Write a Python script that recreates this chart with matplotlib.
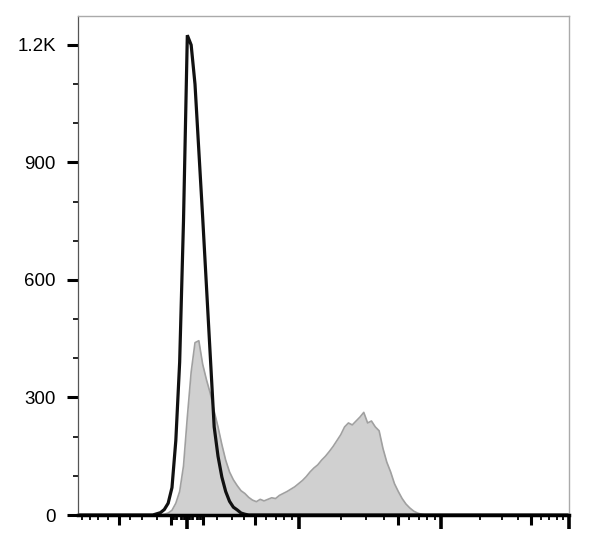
import numpy as np
import matplotlib
matplotlib.use('Agg')
from matplotlib import pyplot as plt

# histogram counts, 128 display channels across the axis
n_channels = 128

# control (black line), counts from channel 20 on
control_start = 20
control_counts = [3, 6, 14, 30, 70, 190, 390, 750, 1225, 1200, 1100, 930,
                  760, 580, 400, 225, 150, 97, 60, 35, 20, 13, 5, 2]

# stained sample (grey fill), counts from channel 22 on
stained_start = 22
stained_counts = [2, 5, 12, 30, 60, 125, 250, 365, 440, 445, 385, 345, 310,
                  265, 225, 180, 140, 110, 90, 75, 62, 55, 45, 38, 34,
                  40, 36, 40, 44, 42, 50, 55, 60, 66, 72, 80, 88,
                  98, 110, 120, 128, 140, 150, 162, 175, 190, 205, 225, 235,
                  230, 240, 250, 262, 235, 240, 225, 215, 170, 135, 110, 80,
                  60, 42, 28, 18, 10, 5, 2]

y_ticks = [0, 300, 600, 900, 1200]
y_labels = ['0', '300', '600', '900', '1.2K']

x_long = [0, 1e3, 1e4, 1e5]
x_medium = [-500, -100, 100, 500, 5e3, 5e4]
x_minor = ([-v for v in range(600, 1000, 100)] + [-v for v in (200, 300, 400)]
           + [-v for v in range(10, 100, 10) if v != 50]
           + [v for v in range(10, 100, 10) if v != 50]
           + [200, 300, 400, 600, 700, 800, 900]
           + [k * 1e3 for k in (2, 3, 4, 6, 7, 8, 9)]
           + [k * 1e4 for k in (2, 3, 4, 6, 7, 8, 9)])

x_min_value = -960
x_max_value = 1e5


def biex(v):
    # biexponential-like display transform (symmetric around zero)
    knots_v = np.array([0, 200, 500, 1000, 1e4, 1e5, 1e6])
    knots_d = np.array([0, 30, 68, 112, 255, 383, 511])
    v = np.asarray(v, dtype=float)
    u = np.arcsinh(np.abs(v) / 300)
    d = np.interp(u, np.arcsinh(knots_v / 300), knots_d)
    return np.sign(v) * d


def to_channel(v):
    lo = biex(x_min_value)
    hi = biex(x_max_value)
    return (biex(v) - lo) / (hi - lo) * n_channels


control = np.zeros(n_channels)
control[control_start:control_start + len(control_counts)] = control_counts
stained = np.zeros(n_channels)
stained[stained_start:stained_start + len(stained_counts)] = stained_counts
channels = np.arange(n_channels) + 0.5

plt.rcParams['font.family'] = ['Liberation Sans', 'DejaVu Sans']

fig = plt.figure(figsize=(6.08, 5.45), dpi=100)
ax = fig.add_axes([78 / 608, 30 / 545, 491 / 608, 499 / 545])

ax.fill_between(channels, stained, color='#d0d0d0', linewidth=0)
ax.plot(channels, stained, color='#a0a0a0', linewidth=1.2)
ax.plot(channels, control, color='#111111', linewidth=2.3, solid_joinstyle='miter')

ax.set_xlim(0, n_channels)
ax.set_ylim(0, 1274)

# frame
ax.spines['left'].set_color('#555555')
ax.spines['left'].set_linewidth(0.9)
ax.spines['bottom'].set_color('black')
ax.spines['bottom'].set_linewidth(2.5)
for side in ('top', 'right'):
    ax.spines[side].set_color('#aaaaaa')
    ax.spines[side].set_linewidth(1.0)

# y ticks
ax.set_yticks(y_ticks)
ax.set_yticklabels(y_labels)
ax.set_yticks(np.arange(100, 1274, 100), minor=True)
ax.tick_params(axis='y', which='major', direction='out', length=8, width=2.2,
               pad=8, labelsize=13.5, colors='black')
ax.tick_params(axis='y', which='minor', direction='out', length=3.5, width=1.2)

# x ticks (no labels)
ax.set_xticks(to_channel(x_long))
ax.set_xticklabels([])
ax.set_xticks(to_channel(x_minor), minor=True)
ax.tick_params(axis='x', which='major', direction='out', length=10, width=2.6)
ax.tick_params(axis='x', which='minor', direction='out', length=3.5, width=1.3)

sec = ax.secondary_xaxis('bottom')
sec.set_xticks(to_channel(x_medium))
sec.set_xticklabels([])
sec.tick_params(direction='out', length=7, width=2.2)
sec.spines['bottom'].set_visible(False)

fig.savefig('out.png', dpi=100)
